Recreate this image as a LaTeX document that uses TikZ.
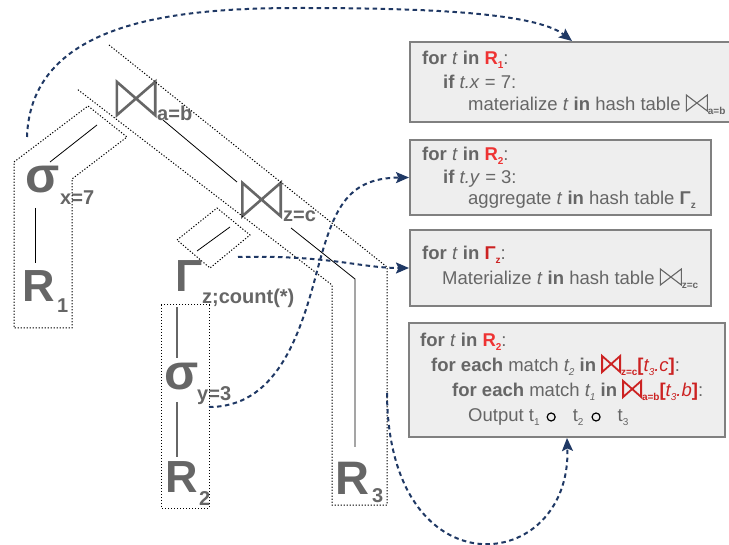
\documentclass[tikz,border=0pt]{standalone}
\usepackage{fontspec}
\setmainfont{Liberation Sans}
\usetikzlibrary{arrows.meta}
\definecolor{txtgray}{HTML}{666666}
\definecolor{boxfill}{HTML}{EEEEEE}
\definecolor{boxline}{HTML}{808080}
\definecolor{navy}{HTML}{1F3864}
\definecolor{hired}{HTML}{EE3333}
\definecolor{dkred}{HTML}{CC2222}
\newcommand{\btie}[4]{\tikz[baseline=0pt]\draw[#1,line width=#4,solid,line join=miter] (0pt,0pt)--(0pt,#3)--(#2,0pt)--(#2,#3)--cycle;}
\newcommand{\sbs}[1]{\raisebox{-4pt}{\fontsize{10}{10}\selectfont #1}}
\newcommand{\ocirc}{\tikz[baseline=0pt]\draw[black,line width=1.2pt,solid] (0pt,5pt) circle (4pt);}
\tikzset{
  bx/.style={anchor=base west, inner sep=0pt, text=txtgray, font=\fontsize{18.5}{22}\selectfont},
  tr/.style={anchor=base west, inner sep=0pt, text=txtgray, font=\bfseries\fontsize{45}{45}\selectfont},
  sig/.style={anchor=base west, inner sep=0pt, text=txtgray, font=\bfseries\fontsize{50}{50}\selectfont},
  trsub/.style={anchor=base west, inner sep=0pt, text=txtgray, font=\bfseries\fontsize{20}{20}\selectfont},
  codebox/.style={draw=boxline, fill=boxfill, line width=2pt, inner sep=0pt},
  edge/.style={black, line width=0.8pt},
  gedge/.style={txtgray, line width=2pt},
  pipe/.style={black, line width=1pt, dash pattern=on 1.2pt off 1.8pt},
  flow/.style={navy, line width=2pt, dash pattern=on 4.5pt off 3.5pt, -{Stealth[length=13pt,width=11pt,inset=2.5pt]}},
  btline/.style={txtgray, line width=2.6pt},
  btnode/.style={inner sep=0pt, minimum width=38pt, minimum height=33pt},
}
\begin{document}
\begin{tikzpicture}[x=1pt,y=-1pt]
\useasboundingbox (0,0) rectangle (729,545);

% code boxes
\node[codebox, minimum width=324pt, minimum height=80pt] (box1) at (572,82) {};
\node[codebox, minimum width=301pt, minimum height=75pt] (box2) at (560.5,177.5) {};
\node[codebox, minimum width=301pt, minimum height=76pt] (box3) at (560.5,268) {};
\node[codebox, minimum width=316pt, minimum height=114pt] (box4) at (567,380) {};

\node[bx] (t11) at (422,65) {\textbf{for} \textit{t} \textbf{in} \textcolor{hired}{\textbf{R\sbs{1}}}:};
\node[bx] (t12) at (443,89) {\textbf{if} \textit{t.x} = 7:};
\node[bx] (t13) at (468,111) {materialize \textit{t} \textbf{in} hash table \btie{txtgray}{21pt}{16pt}{1.1pt}\sbs{\textbf{a=b}}};

\node[bx] (t21) at (422,161) {\textbf{for} \textit{t} \textbf{in} \textcolor{hired}{\textbf{R\sbs{2}}}:};
\node[bx] (t22) at (443,184) {\textbf{if} \textit{t.y} = 3:};
\node[bx] (t23) at (468,205) {aggregate \textit{t} \textbf{in} hash table \textbf{Γ\sbs{z}}};

\node[bx] (t31) at (422,260) {\textbf{for} \textit{t} \textbf{in} \textcolor{dkred}{\textbf{Γ\sbs{z}}}:};
\node[bx] (t32) at (442,285) {Materialize \textit{t} \textbf{in} hash table \btie{txtgray}{21pt}{16pt}{1.1pt}\sbs{\textbf{z=c}}};

\node[bx] (t41) at (420,347) {\textbf{for} \textit{t} \textbf{in} \textcolor{hired}{\textbf{R\sbs{2}}}:};
\node[bx] (t42) at (431,372) {\textbf{for each} match \textit{t\sbs{2}} \textbf{in} \textcolor{dkred}{\btie{dkred}{18pt}{16pt}{1.8pt}\textbf{\sbs{z=c}[}\textit{t\sbs{3}.c}\textbf{]}}:};
\node[bx] (t43) at (452,397) {\textbf{for each} match \textit{t\sbs{1}} \textbf{in} \textcolor{dkred}{\btie{dkred}{18pt}{16pt}{1.8pt}\textbf{\sbs{a=b}[}\textit{t\sbs{3}.b}\textbf{]}}:};
\node[bx] (t44) at (468,422) {Output t\sbs{1}\hspace{7pt}\ocirc\hspace{17pt}t\sbs{2}\hspace{8pt}\ocirc\hspace{17pt}t\sbs{3}};

% plan tree
\node[sig] (s1) at (25,193) {σ};
\node[trsub] (s1sub) at (60,205) {x=7};
\node[tr] (r1) at (22,302) {R};
\node[trsub] (r1sub) at (57,313) {1};

\node[btnode] (j1) at (136,98.5) {};
\draw[btline] (j1.north west)--(j1.south west)--(j1.north east)--(j1.south east)--cycle;
\node[trsub] (j1sub) at (157,121) {a=b};

\node[btnode] (j2) at (261.5,199.5) {};
\draw[btline] (j2.north west)--(j2.south west)--(j2.north east)--(j2.south east)--cycle;
\node[trsub] (j2sub) at (283,222) {z=c};

\node[tr] (g) at (175,292) {Γ};
\node[trsub] (gsub) at (202,304) {z;count(*)};
\node[sig] (s2) at (164,390) {σ};
\node[trsub] (s2sub) at (197,401) {y=3};
\node[tr] (r2) at (165,493) {R};
\node[trsub] (r2sub) at (199,505) {2};
\node[tr, font=\bfseries\fontsize{47}{47}\selectfont] (r3) at (335,494) {R};
\node[trsub] (r3sub) at (372,502) {3};

% tree edges
\coordinate (e1a) at (35,208); \coordinate (e1b) at (35,263);
\coordinate (e2a) at (50,162); \coordinate (e2b) at (97,125);
\coordinate (e3a) at (163,120); \coordinate (e3b) at (237,182);
\coordinate (e4a) at (230,227); \coordinate (e4b) at (197,251);
\coordinate (e5a) at (291,228); \coordinate (e5m) at (355,279); \coordinate (e5b) at (355,447);
\coordinate (e6a) at (177,307); \coordinate (e6b) at (177,358);
\coordinate (e7a) at (177,402); \coordinate (e7b) at (177,457);
\draw[edge] (e1a) -- (e1b);
\draw[edge] (e2a) -- (e2b);
\draw[edge] (e3a) -- (e3b);
\draw[edge] (e4a) -- (e4b);
\draw[edge] (e5a) -- (e5m) -- (e5b);
\draw[gedge] (e6a) -- (e6b);
\draw[gedge] (e7a) -- (e7b);

% pipelines
\draw[pipe] (14,162) -- (88,106) -- (127,137) -- (72,179) -- (72,328) -- (14,328) -- cycle;
\draw[pipe] (177,240) -- (217,208) -- (250,235) -- (210,268) -- cycle;
\draw[pipe] (161,305) rectangle (209,508);
\draw[pipe] (109,45) -- (387,267) -- (387,505) -- (332,505) -- (332,285) -- (77,89);

% data flow
\coordinate (c1s) at (27,137);
\coordinate (c2s) at (209,407);
\coordinate (c3s) at (238,257);
\coordinate (c4s) at (387,393);
\draw[flow] (c1s) .. controls (31,19) and (182,8) .. (300,8) .. controls (420,8) and (535,12) .. (box1.north);
\draw[flow] (c2s) .. controls (275,407) and (299,339) .. (316,275) .. controls (333,211) and (345,178) .. (box2.west);
\draw[flow] (c3s) .. controls (330,255) and (360,268) .. (box3.west);
\draw[flow] (c4s) .. controls (388,595) and (572,575) .. (box4.south);
\end{tikzpicture}
\end{document}
